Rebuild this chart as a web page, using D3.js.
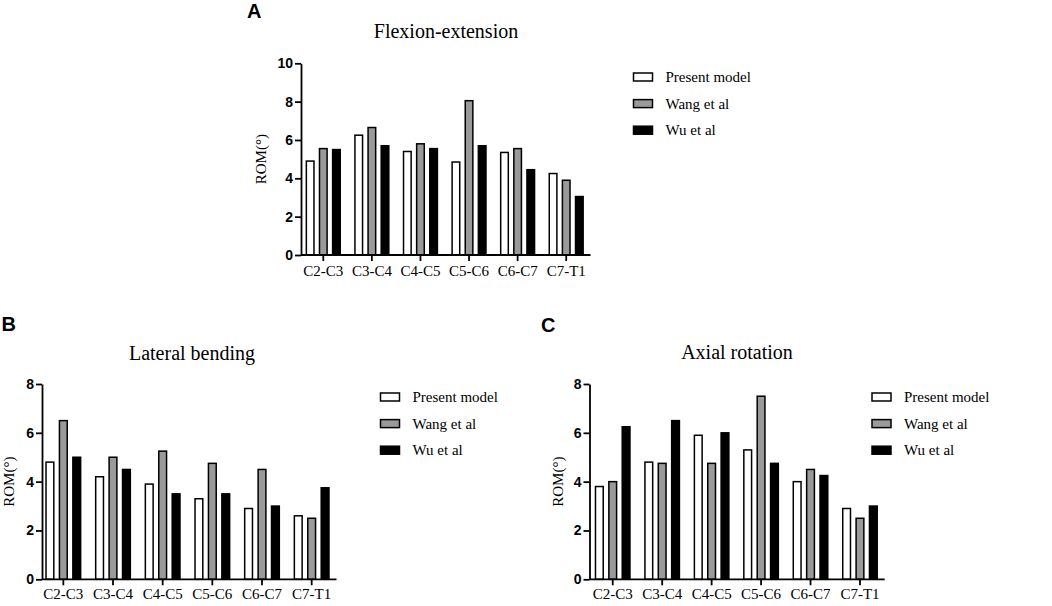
<!DOCTYPE html>
<html>
<head>
<meta charset="utf-8">
<script src="https://cdn.jsdelivr.net/npm/d3@7"></script>
<style>
  html, body { margin: 0; padding: 0; background: #fff; }
  svg { display: block; }
</style>
</head>
<body>
<svg id="chart" width="1052" height="606"></svg>
<script>
// ---- Data ----
const categories = ["C2-C3", "C3-C4", "C4-C5", "C5-C6", "C6-C7", "C7-T1"];
const seriesNames = ["Present model", "Wang et al", "Wu et al"];
const seriesColors = ["#ffffff", "#9a9a9a", "#000000"];

const flexPresent = [4.9, 6.25, 5.4, 4.85, 5.35, 4.25];
const flexWang    = [5.55, 6.65, 5.8, 8.05, 5.55, 3.9];
const flexWu      = [5.5, 5.7, 5.55, 5.7, 4.45, 3.05];

const latPresent = [4.8, 4.2, 3.9, 3.3, 2.9, 2.6];
const latWang    = [6.5, 5.0, 5.25, 4.75, 4.5, 2.5];
const latWu      = [5.0, 4.5, 3.5, 3.5, 3.0, 3.75];

const axPresent = [3.8, 4.8, 5.9, 5.3, 4.0, 2.9];
const axWang    = [4.0, 4.75, 4.75, 7.5, 4.5, 2.5];
const axWu      = [6.25, 6.5, 6.0, 4.75, 4.25, 3.0];

const flexTicks = [0, 2, 4, 6, 8, 10];
const latTicks  = [0, 2, 4, 6, 8];
const axTicks   = [0, 2, 4, 6, 8];

const yLabel = "ROM(°)";

// ---- Drawing ----
const svg = d3.select("#chart");
const serif = "'Liberation Serif', 'Times New Roman', serif";
const sans = "'Liberation Sans', Arial, sans-serif";

function drawPanel(cfg) {
  const g = svg.append("g");
  const x0 = d3.scaleBand().domain(categories).range(cfg.xRange);
  const x1 = d3.scaleBand().domain(seriesNames).range([0, x0.bandwidth()])
    .paddingInner(0.42).paddingOuter(0.56);
  const y = d3.scaleLinear().domain([0, cfg.yMax]).range(cfg.yRange);

  const rows = categories.map((c, i) => ({
    cat: c,
    vals: cfg.series.map((s, j) => ({ name: seriesNames[j], v: s[i], color: seriesColors[j] }))
  }));

  // bars
  g.selectAll("g.grp").data(rows).join("g")
    .attr("transform", d => `translate(${x0(d.cat)},0)`)
    .selectAll("rect").data(d => d.vals).join("rect")
    .attr("x", d => x1(d.name))
    .attr("width", x1.bandwidth())
    .attr("y", d => y(d.v))
    .attr("height", d => y(0) - y(d.v))
    .attr("fill", d => d.color)
    .attr("stroke", "#000")
    .attr("stroke-width", 1.5);

  // y axis
  const ya = g.append("g").attr("transform", `translate(${cfg.axisX},0)`)
    .call(d3.axisLeft(y).tickValues(cfg.ticks).tickSize(6).tickPadding(2).tickSizeOuter(0));
  ya.select(".domain").attr("stroke-width", 1.8);
  ya.selectAll(".tick line").attr("stroke-width", 1.8);
  ya.selectAll(".tick text").attr("font-family", sans).attr("font-weight", "bold")
    .attr("font-size", 14).attr("fill", "#000");

  // x axis
  const xa = g.append("g").attr("transform", `translate(0,${y(0)})`)
    .call(d3.axisBottom(x0).tickSize(6).tickPadding(cfg.tickPad).tickSizeOuter(0));
  xa.select(".domain").attr("d", `M${cfg.axisX - x0.range()[0]},0H${x0.range()[1] - x0.range()[0]}`)
    .attr("transform", `translate(${x0.range()[0]},0)`)
    .attr("stroke-width", 1.8);
  xa.selectAll(".tick line").attr("stroke-width", 1.8);
  xa.selectAll(".tick text").attr("font-family", serif).attr("font-size", 15).attr("fill", "#000");

  // y label
  const yMid = (cfg.yRange[0] + cfg.yRange[1]) / 2;
  g.append("text")
    .attr("transform", `translate(${cfg.yLabelX},${yMid}) rotate(-90)`)
    .attr("text-anchor", "middle").attr("dominant-baseline", "central")
    .attr("font-family", serif).attr("font-size", 15).attr("fill", "#000")
    .text(yLabel);

  // title
  g.append("text").attr("x", cfg.titleX).attr("y", cfg.titleY)
    .attr("text-anchor", "middle").attr("font-family", serif).attr("font-size", 20)
    .attr("fill", "#000").text(cfg.title);

  // panel letter
  g.append("text").attr("x", cfg.letterX).attr("y", cfg.letterY)
    .attr("font-family", sans).attr("font-weight", "bold").attr("font-size", 20)
    .attr("fill", "#000").text(cfg.letter);

  // legend
  const lg = g.append("g");
  seriesNames.forEach((n, j) => {
    const cy = cfg.legY + j * cfg.legStep;
    lg.append("rect").attr("x", cfg.legX).attr("y", cy - 4).attr("width", 19).attr("height", 8)
      .attr("fill", seriesColors[j]).attr("stroke", "#000").attr("stroke-width", 1.5);
    lg.append("text").attr("x", cfg.legX + 32).attr("y", cy).attr("dominant-baseline", "central")
      .attr("font-family", serif).attr("font-size", 15).attr("fill", "#000").text(n);
  });
}

drawPanel({
  series: [flexPresent, flexWang, flexWu], ticks: flexTicks, yMax: 10,
  xRange: [299, 590.5], yRange: [255, 63.3], axisX: 301, tickPad: 4,
  yLabelX: 261, title: "Flexion-extension", titleX: 446, titleY: 38,
  letter: "A", letterX: 247, letterY: 17.5,
  legX: 633.5, legY: 77, legStep: 26.6
});

drawPanel({
  series: [latPresent, latWang, latWu], ticks: latTicks, yMax: 8,
  xRange: [38.5, 336.5], yRange: [579.3, 384], axisX: 42, tickPad: 3,
  yLabelX: 9, title: "Lateral bending", titleX: 192, titleY: 360,
  letter: "B", letterX: 1.5, letterY: 330.5,
  legX: 380.5, legY: 397, legStep: 26.6
});

drawPanel({
  series: [axPresent, axWang, axWu], ticks: axTicks, yMax: 8,
  xRange: [588, 884.7], yRange: [579.3, 384], axisX: 589.5, tickPad: 3,
  yLabelX: 557.5, title: "Axial rotation", titleX: 737, titleY: 359,
  letter: "C", letterX: 541, letterY: 332,
  legX: 872, legY: 397, legStep: 26.6
});
</script>
</body>
</html>
